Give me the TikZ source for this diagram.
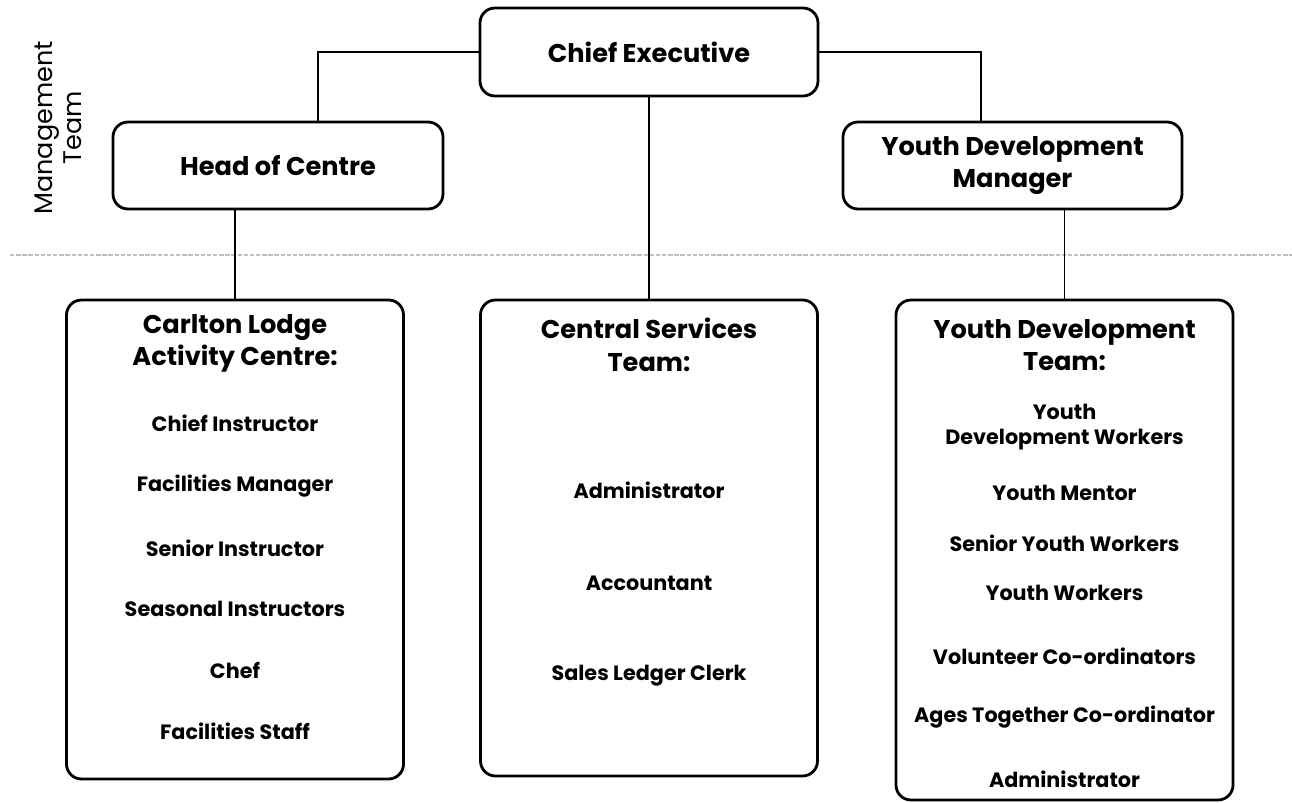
\documentclass[tikz,border=0pt]{standalone}
\usepackage{fontspec}
\setmainfont{Poppins}
\usetikzlibrary{positioning}

\begin{document}
\begin{tikzpicture}

	\tikzstyle{post}=[rectangle,draw,rounded corners=0.3cm,line width=1.6pt,
		align=center,inner sep=0pt,
		font=\bfseries\fontsize{14.6}{18}\selectfont]
	\tikzstyle{team}=[rectangle,draw,rounded corners=0.3cm,line width=1.6pt,
		minimum width=6.74cm]
	\tikzstyle{title}=[align=center,font=\bfseries\fontsize{14.6}{18.5}\selectfont]
	\tikzstyle{duty}=[align=center,font=\bfseries\fontsize{11.8}{15}\selectfont]
	\tikzstyle{link}=[line width=1.1pt]

	\useasboundingbox (0,0) rectangle (25.84,-16.06);

	% management level
	\node[post,minimum width=6.76cm,minimum height=1.76cm](chief) at (12.98,-1.04){Chief Executive};
	\node[post,minimum width=6.6cm,minimum height=1.74cm](centrehead) at (5.56,-3.31){Head of Centre};
	\node[post,minimum width=6.78cm,minimum height=1.74cm](ydmanager) at (20.25,-3.31){Youth Development\\ Manager};
	\node[rotate=90,align=center,font=\fontsize{14.5}{16.5}\selectfont](mgmt) at (1.16,-2.56){Management\\ Team};

	\coordinate (ruleleft) at (0.2,-5.1);
	\coordinate (ruleright) at (25.84,-5.1);
	\draw[gray!50,line width=1.3pt,dash pattern=on 2.5pt off 1pt] (ruleleft) -- (ruleright);

	% teams
	\node[team,minimum height=9.58cm](carlton) at (4.70,-10.79){};
	\node[team,minimum height=9.52cm](central) at (12.98,-10.76){};
	\node[team,minimum height=10.0cm](ydteam) at (21.29,-11.0){};

	\node[title](carltontitle) at (4.70,-6.87){Carlton Lodge\\ Activity Centre:};
	\node[duty](cinstr) at (4.70,-8.46){Chief Instructor};
	\node[duty](fmanager) at (4.70,-9.72){Facilities Manager};
	\node[duty](sinstr) at (4.70,-10.96){Senior Instructor};
	\node[duty](seasonal) at (4.70,-12.18){Seasonal Instructors};
	\node[duty](chef) at (4.70,-13.40){Chef};
	\node[duty](fstaff) at (4.70,-14.62){Facilities Staff};

	\node[title](centraltitle) at (12.98,-6.9){Central Services\\ Team:};
	\node[duty](admin) at (12.98,-9.80){Administrator};
	\node[duty](accountant) at (12.98,-11.66){Accountant};
	\node[duty](ledger) at (12.98,-13.52){Sales Ledger Clerk};

	\node[title](ydtitle) at (21.29,-6.9){Youth Development\\ Team:};
	\node[duty,font=\bfseries\fontsize{11.8}{14.5}\selectfont](ydworkers) at (21.29,-8.54){Youth\\ Development Workers};
	\node[duty](mentor) at (21.29,-9.86){Youth Mentor};
	\node[duty](senioryw) at (21.29,-10.86){Senior Youth Workers};
	\node[duty](ywworkers) at (21.29,-11.86){Youth Workers};
	\node[duty](volunteer) at (21.29,-13.12){Volunteer Co-ordinators};
	\node[duty](ages) at (21.29,-14.34){Ages Together Co-ordinator};
	\node[duty](ydadmin) at (21.29,-15.58){Administrator};

	% connectors
	\draw[link] (chief.west) -| ([xshift=0.8cm]centrehead.north);
	\draw[link] (chief.east) -| ([xshift=-0.63cm]ydmanager.north);
	\draw[link] (chief) -- (central);
	\draw[link] (carlton.north|-centrehead.south) -- (carlton);
	\draw[link] (ydteam.north|-ydmanager.south) -- (ydteam);

\end{tikzpicture}
\end{document}
